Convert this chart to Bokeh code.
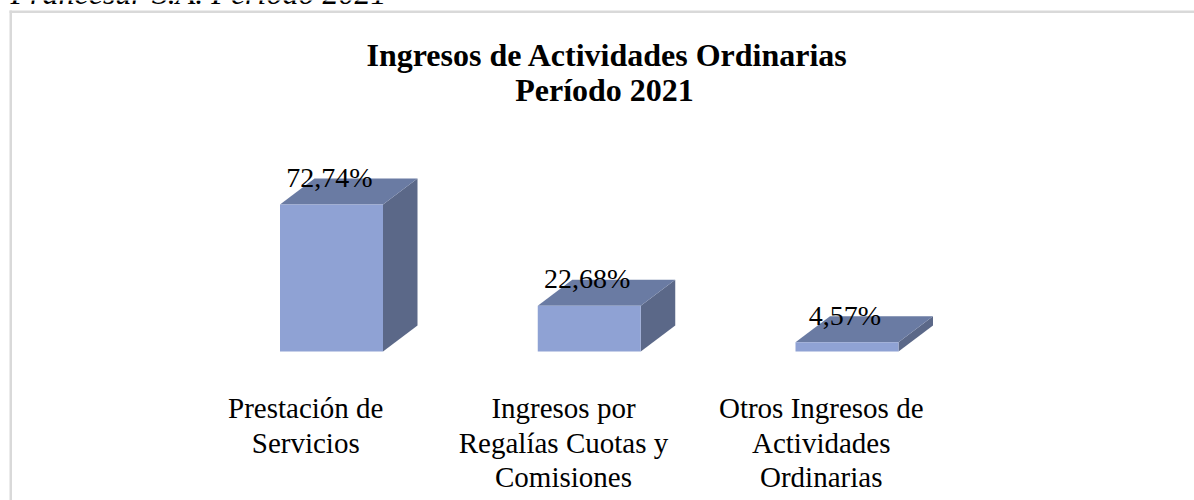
from bokeh.plotting import figure
from bokeh.models import ColumnDataSource, Label, BoxAnnotation, Range1d
from bokeh.core.properties import value
from bokeh.embed import file_html
from bokeh.resources import INLINE

# data
categories = [
    ["Prestación de", "Servicios"],
    ["Ingresos por", "Regalías Cuotas y", "Comisiones"],
    ["Otros Ingresos de", "Actividades", "Ordinarias"],
]
values = [72.74, 22.68, 4.57]
value_labels = ["72,74%", "22,68%", "4,57%"]
title_lines = ["Ingresos de Actividades Ordinarias", "Período 2021"]
caption = "Francesur S.A. Período 2021"

W, H = 1194, 500
FONT = "Liberation Serif"
FRONT, TOP, SIDE = "#8FA2D4", "#6A7BA3", "#5B6888"
GRID = "#D9D9D9"

# layout in px
X0, STEP, BAR_W = 331.0, 257.75, 103.0
BASE, PX_PER = 351.0, 2.02
DX, DY = 34.5, 26.0

p = figure(width=W, height=H, output_backend="svg", toolbar_location=None,
           min_border=0, x_axis_type="linear",
           x_range=Range1d(-X0 / STEP, (W - X0) / STEP),
           y_range=Range1d(-(H - BASE) / PX_PER, BASE / PX_PER))
p.axis.visible = False
p.grid.visible = False
p.outline_line_color = None
p.background_fill_color = "white"

hw = BAR_W / STEP / 2
dx = DX / STEP
dy = DY / PX_PER
xs = list(range(len(values)))

front = dict(x=[[i - hw, i + hw, i + hw, i - hw] for i in xs],
             y=[[0, 0, v, v] for v in values])
top = dict(x=[[i - hw, i + hw, i + hw + dx, i - hw + dx] for i in xs],
           y=[[v, v, v + dy, v + dy] for v in values])
side = dict(x=[[i + hw, i + hw + dx, i + hw + dx, i + hw] for i in xs],
            y=[[0, dy, v + dy, v] for v in values])
p.patches("x", "y", source=ColumnDataSource(side), fill_color=SIDE, line_color=None)
p.patches("x", "y", source=ColumnDataSource(top), fill_color=TOP, line_color=None)
p.patches("x", "y", source=ColumnDataSource(front), fill_color=FRONT, line_color=None)

# data labels
label_src = ColumnDataSource(dict(x=xs, y=values, t=value_labels))
p.text("x", "y", text="t", source=label_src, text_font=value(FONT),
       text_font_size="28px", text_color="#000000", text_align="center",
       text_baseline="alphabetic", y_offset=-27, x_offset=-2)

# category labels
cx, cy, ct = [], [], []
for i, lines in enumerate(categories):
    for j, line in enumerate(lines):
        cx.append(i - 0.1)
        cy.append(-(407.5 + j * 34.5 - BASE) / PX_PER)
        ct.append(line)
p.text(cx, cy, text=ct, text_font=value(FONT), text_font_size="29px",
       text_color="#000000", text_align="center", text_baseline="alphabetic")

# chart border
p.add_layout(BoxAnnotation(left=9, right=1194, top=H - 10, bottom=H - 12.5,
                           left_units="screen", right_units="screen",
                           top_units="screen", bottom_units="screen",
                           fill_color=GRID, fill_alpha=1, line_color=None))
p.add_layout(BoxAnnotation(left=9, right=11.5, top=H - 10, bottom=0,
                           left_units="screen", right_units="screen",
                           top_units="screen", bottom_units="screen",
                           fill_color=GRID, fill_alpha=1, line_color=None))

# title + caption
for line, cxp, yb in zip(title_lines, [607, 604], [54, 89]):
    p.add_layout(Label(x=cxp, y=H - yb, x_units="screen", y_units="screen", text=line,
                       text_font=FONT, text_font_size="32px", text_font_style="bold",
                       text_align="center", text_baseline="alphabetic", text_color="#000000"))
p.add_layout(Label(x=10, y=H + 8, x_units="screen", y_units="screen", text=caption,
                   text_font=FONT, text_font_size="32px", text_font_style="italic",
                   text_align="left", text_baseline="alphabetic", text_color="#000000"))

open("out.html", "w").write(file_html(p, INLINE))
